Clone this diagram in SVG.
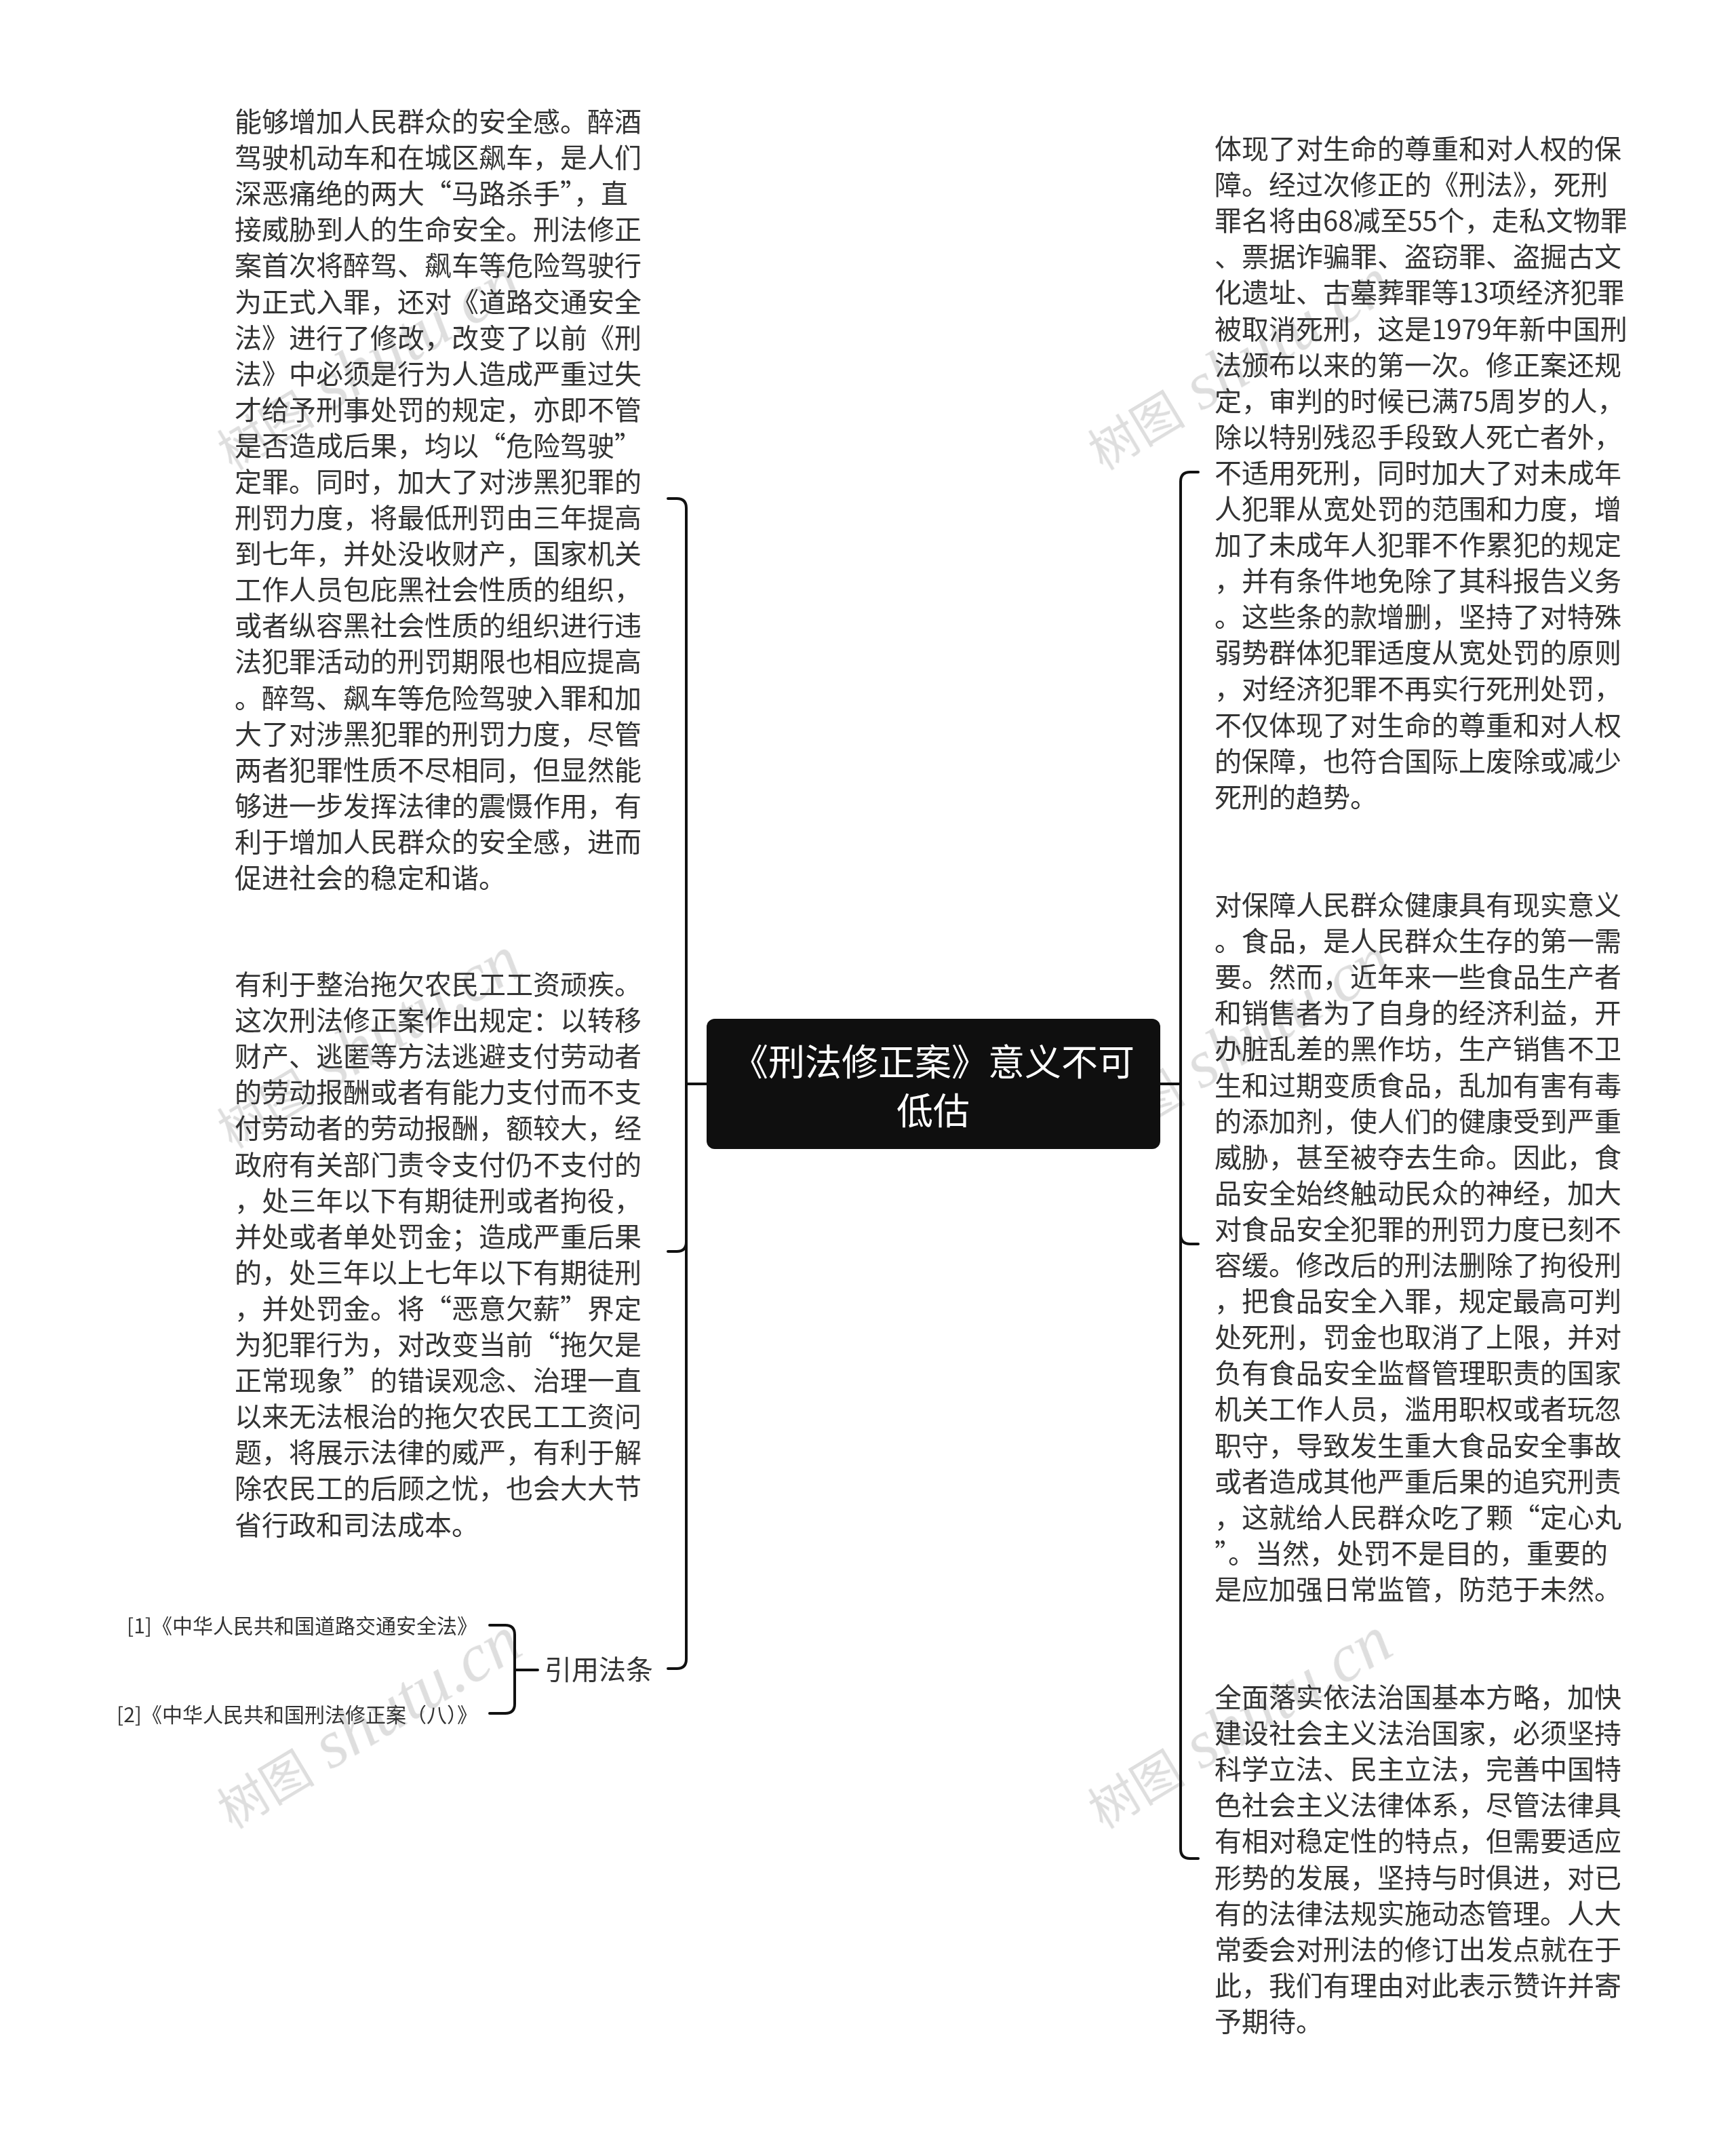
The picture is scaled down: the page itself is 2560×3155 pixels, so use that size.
<svg xmlns="http://www.w3.org/2000/svg" width="2560" height="3155" viewBox="0 0 2560 3155">
<style>
.t{font-family:"Noto Sans CJK SC","Noto Sans",sans-serif;font-size:40px;fill:#333;dominant-baseline:central}
.ref{font-family:"Noto Sans CJK SC","Noto Sans",sans-serif;font-size:30px;fill:#333;dominant-baseline:central;text-anchor:end}
.root{font-family:"Noto Sans CJK SC","Noto Sans",sans-serif;font-size:54px;fill:#fff;dominant-baseline:central;text-anchor:middle}
.wm{fill:#000;opacity:0.13}
.wmc{font-family:"Noto Sans CJK SC",sans-serif;font-size:72px}
.wml{font-family:"Liberation Serif",serif;font-style:italic;font-size:100px}
.c{fill:none;stroke:#111;stroke-width:4;stroke-linecap:round}
</style>
<rect width="2560" height="3155" fill="#fff"/>
<g id="watermarks" class="wm">
<text transform="translate(342,694) rotate(-31)"><tspan class="wmc">树图</tspan><tspan class="wml"> shutu.cn</tspan></text>
<text transform="translate(342,1694) rotate(-31)"><tspan class="wmc">树图</tspan><tspan class="wml"> shutu.cn</tspan></text>
<text transform="translate(342,2697) rotate(-31)"><tspan class="wmc">树图</tspan><tspan class="wml"> shutu.cn</tspan></text>
<text transform="translate(1626,694) rotate(-31)"><tspan class="wmc">树图</tspan><tspan class="wml"> shutu.cn</tspan></text>
<text transform="translate(1626,1694) rotate(-31)"><tspan class="wmc">树图</tspan><tspan class="wml"> shutu.cn</tspan></text>
<text transform="translate(1626,2697) rotate(-31)"><tspan class="wmc">树图</tspan><tspan class="wml"> shutu.cn</tspan></text>
</g>
<g id="connectors">
<path class="c" d="M1042 1598 L1012 1598"/>
<path class="c" d="M1012 1598 L1012 749 Q1012 735 998 735 L985 735"/>
<path class="c" d="M1012 1598 L1012 1831 Q1012 1845 998 1845 L985 1845"/>
<path class="c" d="M1012 1598 L1012 2446 Q1012 2460 998 2460 L985 2460"/>
<path class="c" d="M1711 1598 L1741 1598"/>
<path class="c" d="M1741 1598 L1741 710 Q1741 696 1755 696 L1767 696"/>
<path class="c" d="M1741 1598 L1741 1820 Q1741 1834 1755 1834 L1767 1834"/>
<path class="c" d="M1741 1598 L1741 2726 Q1741 2740 1755 2740 L1767 2740"/>
<path class="c" d="M793 2462 L759 2462"/>
<path class="c" d="M759 2462 L759 2410 Q759 2396 745 2396 L722 2396"/>
<path class="c" d="M759 2462 L759 2512 Q759 2526 745 2526 L722 2526"/>
</g>
<g id="root">
<rect x="1042" y="1502" width="669" height="192" rx="12" fill="#0f0f0f"/>
<text class="root" x="1376" y="1562">《刑法修正案》意义不可</text>
<text class="root" x="1376" y="1634">低估</text>
</g>
<g id="left1">
<text class="t" x="346" y="177">能够增加人民群众的安全感。醉酒<tspan x="346" dy="53.1">驾驶机动车和在城区飙车，是人们</tspan><tspan x="346" dy="53.1">深恶痛绝的两大“马路杀手”，直</tspan><tspan x="346" dy="53.1">接威胁到人的生命安全。刑法修正</tspan><tspan x="346" dy="53.1">案首次将醉驾、飙车等危险驾驶行</tspan><tspan x="346" dy="53.1">为正式入罪，还对《道路交通安全</tspan><tspan x="346" dy="53.1">法》进行了修改，改变了以前《刑</tspan><tspan x="346" dy="53.1">法》中必须是行为人造成严重过失</tspan><tspan x="346" dy="53.1">才给予刑事处罚的规定，亦即不管</tspan><tspan x="346" dy="53.1">是否造成后果，均以“危险驾驶”</tspan><tspan x="346" dy="53.1">定罪。同时，加大了对涉黑犯罪的</tspan><tspan x="346" dy="53.1">刑罚力度，将最低刑罚由三年提高</tspan><tspan x="346" dy="53.1">到七年，并处没收财产，国家机关</tspan><tspan x="346" dy="53.1">工作人员包庇黑社会性质的组织，</tspan><tspan x="346" dy="53.1">或者纵容黑社会性质的组织进行违</tspan><tspan x="346" dy="53.1">法犯罪活动的刑罚期限也相应提高</tspan><tspan x="346" dy="53.1">。醉驾、飙车等危险驾驶入罪和加</tspan><tspan x="346" dy="53.1">大了对涉黑犯罪的刑罚力度，尽管</tspan><tspan x="346" dy="53.1">两者犯罪性质不尽相同，但显然能</tspan><tspan x="346" dy="53.1">够进一步发挥法律的震慑作用，有</tspan><tspan x="346" dy="53.1">利于增加人民群众的安全感，进而</tspan><tspan x="346" dy="53.1">促进社会的稳定和谐。</tspan></text>
</g>
<g id="left2">
<text class="t" x="346" y="1449">有利于整治拖欠农民工工资顽疾。<tspan x="346" dy="53.1">这次刑法修正案作出规定：以转移</tspan><tspan x="346" dy="53.1">财产、逃匿等方法逃避支付劳动者</tspan><tspan x="346" dy="53.1">的劳动报酬或者有能力支付而不支</tspan><tspan x="346" dy="53.1">付劳动者的劳动报酬，额较大，经</tspan><tspan x="346" dy="53.1">政府有关部门责令支付仍不支付的</tspan><tspan x="346" dy="53.1">，处三年以下有期徒刑或者拘役，</tspan><tspan x="346" dy="53.1">并处或者单处罚金；造成严重后果</tspan><tspan x="346" dy="53.1">的，处三年以上七年以下有期徒刑</tspan><tspan x="346" dy="53.1">，并处罚金。将“恶意欠薪”界定</tspan><tspan x="346" dy="53.1">为犯罪行为，对改变当前“拖欠是</tspan><tspan x="346" dy="53.1">正常现象”的错误观念、治理一直</tspan><tspan x="346" dy="53.1">以来无法根治的拖欠农民工工资问</tspan><tspan x="346" dy="53.1">题，将展示法律的威严，有利于解</tspan><tspan x="346" dy="53.1">除农民工的后顾之忧，也会大大节</tspan><tspan x="346" dy="53.1">省行政和司法成本。</tspan></text>
</g>
<g id="cite">
<text class="t" x="803" y="2459">引用法条</text>
</g>
<g id="ref1">
<text class="ref" x="704" y="2395">[1]《中华人民共和国道路交通安全法》</text>
</g>
<g id="ref2">
<text class="ref" x="704" y="2526">[2]《中华人民共和国刑法修正案（八）》</text>
</g>
<g id="right1">
<text class="t" x="1791" y="217">体现了对生命的尊重和对人权的保<tspan x="1791" dy="53.1">障。经过次修正的《刑法》，死刑</tspan><tspan x="1791" dy="53.1">罪名将由68减至55个，走私文物罪</tspan><tspan x="1791" dy="53.1">、票据诈骗罪、盗窃罪、盗掘古文</tspan><tspan x="1791" dy="53.1">化遗址、古墓葬罪等13项经济犯罪</tspan><tspan x="1791" dy="53.1">被取消死刑，这是1979年新中国刑</tspan><tspan x="1791" dy="53.1">法颁布以来的第一次。修正案还规</tspan><tspan x="1791" dy="53.1">定，审判的时候已满75周岁的人，</tspan><tspan x="1791" dy="53.1">除以特别残忍手段致人死亡者外，</tspan><tspan x="1791" dy="53.1">不适用死刑，同时加大了对未成年</tspan><tspan x="1791" dy="53.1">人犯罪从宽处罚的范围和力度，增</tspan><tspan x="1791" dy="53.1">加了未成年人犯罪不作累犯的规定</tspan><tspan x="1791" dy="53.1">，并有条件地免除了其科报告义务</tspan><tspan x="1791" dy="53.1">。这些条的款增删，坚持了对特殊</tspan><tspan x="1791" dy="53.1">弱势群体犯罪适度从宽处罚的原则</tspan><tspan x="1791" dy="53.1">，对经济犯罪不再实行死刑处罚，</tspan><tspan x="1791" dy="53.1">不仅体现了对生命的尊重和对人权</tspan><tspan x="1791" dy="53.1">的保障，也符合国际上废除或减少</tspan><tspan x="1791" dy="53.1">死刑的趋势。</tspan></text>
</g>
<g id="right2">
<text class="t" x="1791" y="1332">对保障人民群众健康具有现实意义<tspan x="1791" dy="53.1">。食品，是人民群众生存的第一需</tspan><tspan x="1791" dy="53.1">要。然而，近年来一些食品生产者</tspan><tspan x="1791" dy="53.1">和销售者为了自身的经济利益，开</tspan><tspan x="1791" dy="53.1">办脏乱差的黑作坊，生产销售不卫</tspan><tspan x="1791" dy="53.1">生和过期变质食品，乱加有害有毒</tspan><tspan x="1791" dy="53.1">的添加剂，使人们的健康受到严重</tspan><tspan x="1791" dy="53.1">威胁，甚至被夺去生命。因此，食</tspan><tspan x="1791" dy="53.1">品安全始终触动民众的神经，加大</tspan><tspan x="1791" dy="53.1">对食品安全犯罪的刑罚力度已刻不</tspan><tspan x="1791" dy="53.1">容缓。修改后的刑法删除了拘役刑</tspan><tspan x="1791" dy="53.1">，把食品安全入罪，规定最高可判</tspan><tspan x="1791" dy="53.1">处死刑，罚金也取消了上限，并对</tspan><tspan x="1791" dy="53.1">负有食品安全监督管理职责的国家</tspan><tspan x="1791" dy="53.1">机关工作人员，滥用职权或者玩忽</tspan><tspan x="1791" dy="53.1">职守，导致发生重大食品安全事故</tspan><tspan x="1791" dy="53.1">或者造成其他严重后果的追究刑责</tspan><tspan x="1791" dy="53.1">，这就给人民群众吃了颗“定心丸</tspan><tspan x="1791" dy="53.1">”。当然，处罚不是目的，重要的</tspan><tspan x="1791" dy="53.1">是应加强日常监管，防范于未然。</tspan></text>
</g>
<g id="right3">
<text class="t" x="1791" y="2500">全面落实依法治国基本方略，加快<tspan x="1791" dy="53.1">建设社会主义法治国家，必须坚持</tspan><tspan x="1791" dy="53.1">科学立法、民主立法，完善中国特</tspan><tspan x="1791" dy="53.1">色社会主义法律体系，尽管法律具</tspan><tspan x="1791" dy="53.1">有相对稳定性的特点，但需要适应</tspan><tspan x="1791" dy="53.1">形势的发展，坚持与时俱进，对已</tspan><tspan x="1791" dy="53.1">有的法律法规实施动态管理。人大</tspan><tspan x="1791" dy="53.1">常委会对刑法的修订出发点就在于</tspan><tspan x="1791" dy="53.1">此，我们有理由对此表示赞许并寄</tspan><tspan x="1791" dy="53.1">予期待。</tspan></text>
</g>
</svg>
